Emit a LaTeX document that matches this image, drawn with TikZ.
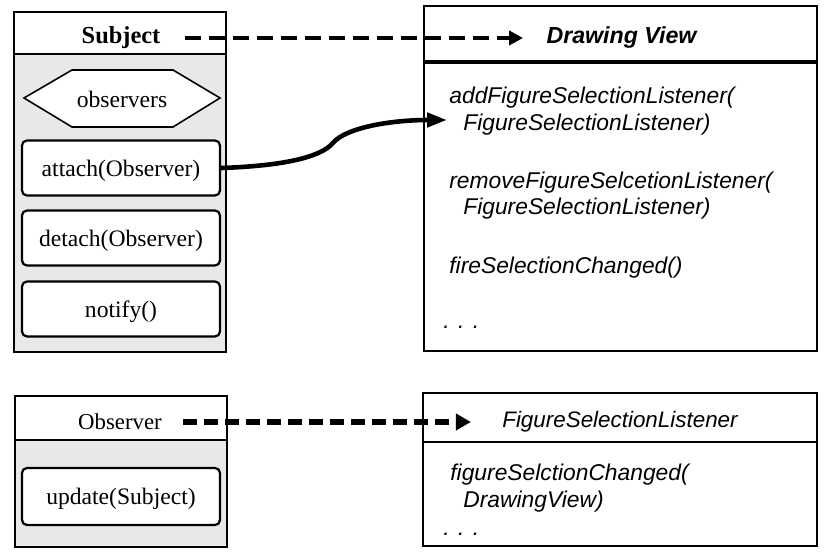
\documentclass[tikz,border=0pt]{standalone}
\usepackage{fontspec}
\setmainfont{Liberation Serif}
\newfontfamily\helv{Liberation Sans}
\usetikzlibrary{arrows.meta}

\definecolor{classgray}{HTML}{E8E8E8}
\tikzset{>={Triangle[length=7pt,width=7pt]}}
\tikzset{
  classbox/.style={draw, line width=1pt},
  opbox/.style={draw, line width=1.1pt, rounded corners=2.5pt, fill=white,
    minimum width=99pt, minimum height=27.5pt, inner sep=0pt, text depth=0pt,
    font=\fontsize{11.8}{14}\selectfont},
  optext/.style={anchor=base west, inner sep=0pt,
    font=\helv\itshape\fontsize{11.4}{14}\selectfont},
  classlabel/.style={inner sep=0pt}
}

\begin{document}
\begin{tikzpicture}[x=0.5pt,y=-0.5pt]
\useasboundingbox (0,0) rectangle (836,560);

% Subject
\draw[classbox, fill=classgray] (14,12) rectangle (226,352);
\draw[classbox, fill=white] (14,12) rectangle (226,54);
\node[classlabel, font=\bfseries\fontsize{12.2}{14}\selectfont] (subj) at (121,38) {Subject};

\draw[line width=0.8pt, fill=white] (24,98) -- (72,70) -- (173,70) -- (220,98) -- (173,127) -- (72,127) -- cycle;
\node[font=\fontsize{11.8}{14}\selectfont, text depth=0pt] (obs) at (122,99) {observers};

\node[opbox] (attach) at (121,168) {attach(Observer)};
\node[opbox] (detach) at (121,238) {detach(Observer)};
\node[opbox] (notify) at (121,309) {notify()};

% Drawing View
\draw[classbox] (424,6) rectangle (817,351);
\draw[line width=1.6pt] (424,62) -- (817,62);
\node[classlabel, font=\helv\bfseries\itshape\fontsize{11.6}{14}\selectfont] (dview) at (621.5,38) {Drawing View};

\node[optext] (add1) at (449,104) {addFigureSelectionListener(};
\node[optext] (add2) at (463,131) {FigureSelectionListener)};
\node[optext] (rem1) at (449,189) {removeFigureSelcetionListener(};
\node[optext] (rem2) at (463,215) {FigureSelectionListener)};
\node[optext] (fire) at (449,274) {fireSelectionChanged()};
\node[optext] (more) at (443,329) {. . .};

\draw[->, line width=2pt, dash pattern=on 8pt off 4pt, shorten <=12pt, shorten >=11.5pt]
  (subj.east) -- (subj.east -| dview.west);

\coordinate (addin) at (447,120);
\draw[-{Triangle[length=10pt,width=7pt]}, line width=2.3pt]
  (attach.east) .. controls (280,166) and (320,158) .. (333,143)
  .. controls (345,128) and (390,120) .. (addin);

% Observer
\draw[classbox, fill=classgray] (15,396) rectangle (227,547);
\draw[classbox, fill=white] (15,396) rectangle (227,440);
\node[classlabel, font=\fontsize{11.4}{14}\selectfont] (obsv) at (120,422) {Observer};
\node[opbox, minimum height=28.5pt] (update) at (121,496.5) {update(Subject)};

% FigureSelectionListener
\draw[classbox] (423,393) rectangle (817,546);
\draw[line width=1.3pt] (423,442) -- (817,442);
\node[classlabel, font=\helv\itshape\fontsize{11.2}{14}\selectfont] (fsl) at (620,422) {FigureSelectionListener};

\node[optext] (fsc1) at (450,481) {figureSelctionChanged(};
\node[optext] (fsc2) at (463,508) {DrawingView)};
\node[optext] (more2) at (443,536) {. . .};

\draw[-{Triangle[length=7.5pt,width=8pt]}, line width=3pt, dash pattern=on 7pt off 3.5pt, shorten <=10.5pt, shorten >=15.5pt]
  (obsv.east) -- (obsv.east -| fsl.west);

\end{tikzpicture}
\end{document}
